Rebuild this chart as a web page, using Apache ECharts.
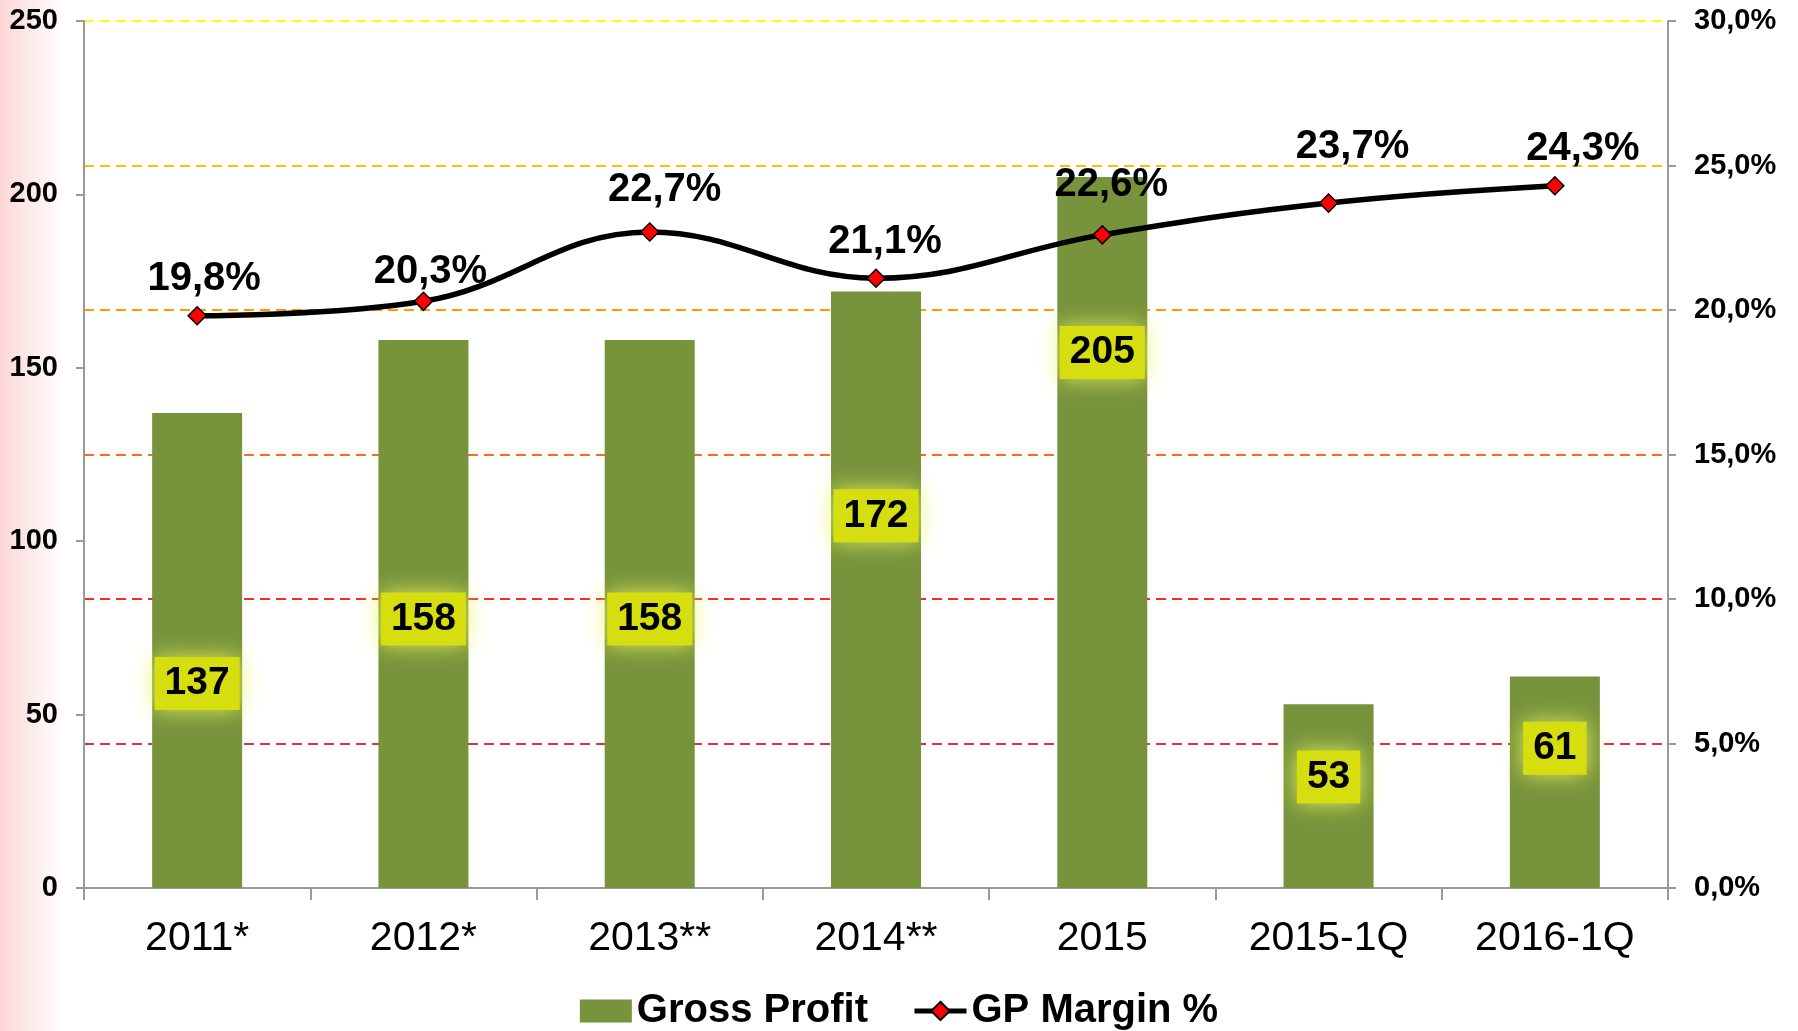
<!DOCTYPE html>
<html>
<head>
<meta charset="utf-8">
<script src="https://cdn.jsdelivr.net/npm/echarts@6/dist/echarts.min.js"></script>
<style>
html,body{margin:0;padding:0;width:1798px;height:1031px;overflow:hidden;
background:linear-gradient(to right,#fcd6d6 0px,#fdeaea 30px,#ffffff 64px,#ffffff 100%);}
#c{width:1798px;height:1031px;}
</style>
</head>
<body>
<div id="c"></div>
<script>
const categories = ['2011*','2012*','2013**','2014**','2015','2015-1Q','2016-1Q'];
const grossProfit = [137,158,158,172,205,53,61];
const gpMargin = [19.8,20.3,22.7,21.1,22.6,23.7,24.3];
const leftTicks = {min:0,max:250,interval:50};
const rightTicks = {min:0,max:30,interval:5};
// label placement tweaks (pixels), as in the original layout
const boxShift = [33,5,5,-74,-180,-19,-34];
const pctShift = [[7,-1],[7,6],[15,-6],[9,0],[9,-14],[24,-20],[28,-1]];

const FONT = '"Liberation Sans", Arial, sans-serif';
const chart = echarts.init(document.getElementById('c'), null, {renderer:'canvas'});

const barData = grossProfit.map((v,i)=>({value:v,label:{offset:[0,boxShift[i]]}}));
const lineData = gpMargin.map((v,i)=>({value:v,label:{offset:pctShift[i]}}));

chart.setOption({
  backgroundColor:'transparent',
  animation:false,
  textStyle:{fontFamily:FONT},
  grid:{left:84,right:130,top:21,bottom:143,containLabel:false},
  legend:{
    bottom:-5,left:'center',
    itemWidth:52,itemHeight:23,itemGap:44,
    lineStyle:{width:5,color:'#000'},
    textStyle:{fontFamily:FONT,fontSize:40,fontWeight:'bold',color:'#000'},
    data:[{name:'Gross Profit',icon:'rect'},{name:'GP Margin %'}]
  },
  xAxis:{
    type:'category',data:categories,
    axisLine:{lineStyle:{color:'#999',width:2}},
    axisTick:{show:true,length:12,lineStyle:{color:'#999',width:2}},
    axisLabel:{fontFamily:FONT,fontSize:41,color:'#000',margin:30}
  },
  yAxis:[
    {type:'value',min:leftTicks.min,max:leftTicks.max,interval:leftTicks.interval,
     axisLine:{show:true,lineStyle:{color:'#999',width:2}},
     axisTick:{show:true,length:8,lineStyle:{color:'#999',width:2}},
     splitLine:{show:false},
     axisLabel:{fontFamily:FONT,fontSize:29,fontWeight:'bold',color:'#000',margin:26}},
    {type:'value',min:rightTicks.min,max:rightTicks.max,interval:rightTicks.interval,
     axisLine:{show:true,lineStyle:{color:'#999',width:2}},
     axisTick:{show:true,length:8,lineStyle:{color:'#999',width:2}},
     splitLine:{show:true,lineStyle:{type:[10,6],width:2,
       color:['rgba(0,0,0,0)','#d0343c','#ff2a18','#ff6a20','#ff9a00','#ffc000','#ffff00']}},
     axisLabel:{fontFamily:FONT,fontSize:29,fontWeight:'bold',color:'#000',margin:26,
       formatter:v=>v.toFixed(1).replace('.',',')+'%'}}
  ],
  series:[
    {name:'Gross Profit',type:'bar',yAxisIndex:0,barWidth:90,data:barData,
     itemStyle:{color:'#77933c'},z:2,
     label:{show:true,position:'inside',fontFamily:FONT,fontSize:39,fontWeight:'bold',color:'#000',
       backgroundColor:'#d6de10',padding:[8,10,6,10],
       shadowColor:'rgba(235,245,90,0.9)',shadowBlur:22}},
    {name:'GP Margin %',type:'line',yAxisIndex:1,data:lineData,smooth:0.4,z:5,
     symbol:'diamond',symbolSize:18,
     lineStyle:{color:'#000',width:5.5},
     itemStyle:{color:'#ff0000',borderColor:'#000',borderWidth:1.5},
     label:{show:true,position:'top',distance:6,fontFamily:FONT,fontSize:40,fontWeight:'bold',color:'#000',
       formatter:p=>p.value.toFixed(1).replace('.',',')+'%'}}
  ]
});
</script>
</body>
</html>
